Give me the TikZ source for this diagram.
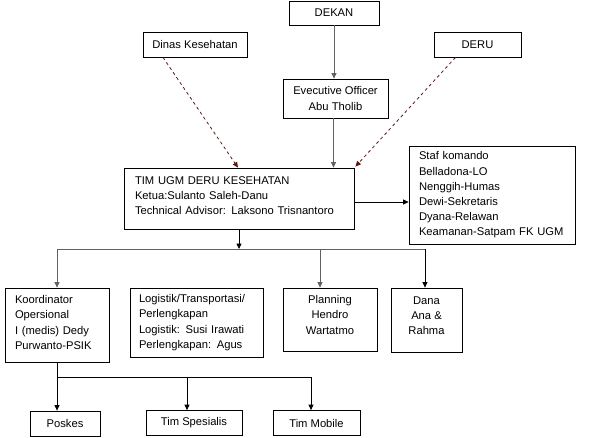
\documentclass[tikz,border=0pt]{standalone}
\usepackage{fontspec}
\setmainfont{Liberation Sans}
\usetikzlibrary{arrows.meta}
\definecolor{lgray}{rgb}{0.38,0.38,0.38}
\definecolor{dashc}{rgb}{0.35,0.1,0.1}
\begin{document}
\begin{tikzpicture}[x=1pt,y=-1pt,
  every node/.style={font=\fontsize{11.2}{15.2}\selectfont},
  box/.style={draw=black,line width=0.8pt,inner sep=0pt,align=center},
  lbox/.style={draw=black,line width=0.8pt,inner ysep=0pt,align=left},
  arr/.style={line width=0.8pt,-{Triangle[length=5.5pt,width=5pt]}},
  dasharr/.style={arr,draw=dashc,dash pattern=on 3pt off 3pt},
  conn/.style={line width=0.8pt}]
\useasboundingbox (0,0) rectangle (589,437);
\node[box,minimum width=90pt,minimum height=24pt] (dekan) at (334,13) {DEKAN};
\node[box,minimum width=104pt,minimum height=25pt] (dinas) at (195,44.5) {Dinas Kesehatan};
\node[box,minimum width=87pt,minimum height=25pt] (deru) at (477.5,44.5) {DERU};
\node[box,minimum width=105pt,minimum height=39pt] (eo) at (335.5,98.5) {Evecutive Officer\\Abu Tholib};
\node[lbox,inner xsep=11pt,text width=208pt,minimum height=61pt] (tim) at (239,198.5)
  {TIM UGM DERU KESEHATAN\\Ketua:Sulanto Saleh-Danu\\Technical Advisor: Laksono Trisnantoro\\[-9pt]\mbox{}};
\node[lbox,inner xsep=10pt,text width=146pt,minimum height=98pt] (staf) at (492,195)
  {Staf komando\\Belladona-LO\\Nenggih-Humas\\Dewi-Sekretaris\\Dyana-Relawan\\Keamanan-Satpam FK UGM};
\node[lbox,inner xsep=10pt,text width=84pt,minimum height=74pt] (koord) at (57,325)
  {Koordinator\\Opersional\\I (medis) Dedy\\Purwanto-PSIK\\[-10pt]\mbox{}};
\node[lbox,inner xsep=9pt,text width=115pt,minimum height=69pt] (logi) at (196.5,322.5)
  {Logistik/Transportasi/\\Perlengkapan\\Logistik: Susi Irawati\\Perlengkapan: Agus};
\node[box,minimum width=94pt,minimum height=63pt] (plan) at (330,319.5) {Planning\\Hendro\\Wartatmo\\[-6pt]\mbox{}};
\node[box,minimum width=71pt,minimum height=64pt] (dana) at (426.5,320) {Dana\\Ana \&\\Rahma\\[-6pt]\mbox{}};
\node[box,minimum width=70pt,minimum height=25pt] (poskes) at (65,423.5) {Poskes};
\node[box,minimum width=96pt,minimum height=25pt] (spes) at (194,423) {Tim Spesialis};
\node[box,minimum width=87pt,minimum height=25pt] (mobile) at (316.5,423) {Tim Mobile};
% top connectors
\draw[arr,draw=lgray] (dekan.south) -- (dekan.south |- eo.north);
\draw[arr,draw=lgray] ([xshift=-2pt]eo.south) -- ([xshift=-2pt]eo.south |- tim.north);
\draw[dasharr] ([xshift=-32pt]dinas.south) -- ([xshift=-1pt]tim.north);
\draw[dasharr] ([xshift=-22pt]deru.south) -- ([xshift=1pt,yshift=1pt]tim.north east);
\draw[arr] ([yshift=-3.5pt]tim.east) -- ([yshift=-3.5pt]tim.east -| staf.west);
% middle bus
\coordinate (b1) at (239,249);
\coordinate (d2) at (320,249);
\coordinate (d3) at (425,249);
\draw[arr] (tim.south) -- (b1);
\draw[conn,draw=lgray] (koord.north |- b1) -- (d3);
\draw[arr,draw=lgray] (koord.north |- b1) -- (koord.north);
\draw[arr,draw=lgray] (d2) -- (d2 |- plan.north);
\draw[arr] (d3) -- (d3 |- dana.north);
% lower bus
\coordinate (b2) at (57,377);
\coordinate (e2) at (187,377);
\coordinate (e3) at (311,377);
\draw[conn] (koord.south) -- (b2) -- (e3);
\draw[arr] (b2) -- (b2 |- poskes.north);
\draw[arr] (e2) -- (e2 |- spes.north);
\draw[arr] (e3) -- (e3 |- mobile.north);
\end{tikzpicture}
\end{document}
